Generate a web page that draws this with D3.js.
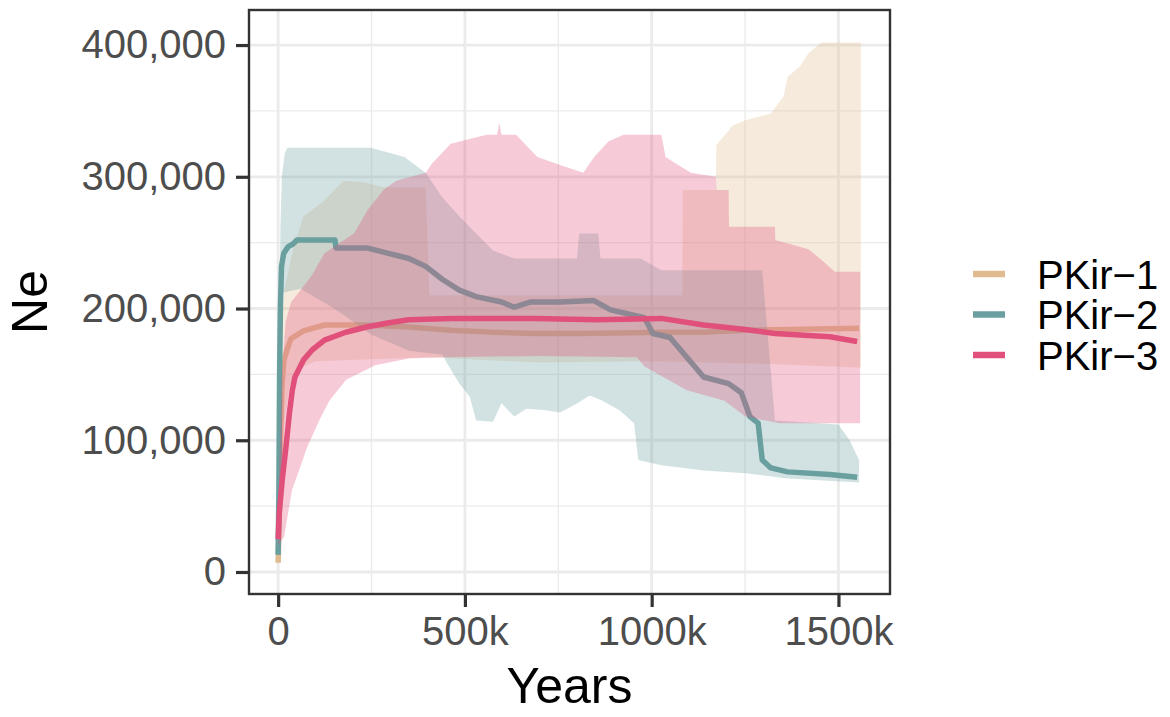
<!DOCTYPE html>
<html>
<head>
<meta charset="utf-8">
<script src="https://cdn.jsdelivr.net/npm/d3@7"></script>
<style>
  body { margin: 0; background: #fff; }
  #chart { width: 1170px; height: 717px; }
  text { font-family: "Liberation Sans", Arial, sans-serif; }
</style>
</head>
<body>
<div id="chart"></div>
<script>
// years are in thousands (k), Ne in thousands
const seriesNames = ["PKir\u22121", "PKir\u22122", "PKir\u22123"];
const seriesColors = ["#E0BB90", "#6A9FA0", "#E0507A"];

const xTicks = [0, 500000, 1000000, 1500000];
const xTickLabels = ["0", "500k", "1000k", "1500k"];
const yTicks = [0, 100000, 200000, 300000, 400000];
const yTickLabels = ["0", "100,000", "200,000", "300,000", "400,000"];
const xLimits = [-78000, 1638000];
const yLimits = [-16700, 426600];

// PKir-1
const p1LineT = [0, 3, 6, 10, 15, 23, 34, 68, 124, 237, 350, 463, 575, 688, 801, 913, 1026, 1139, 1251, 1364, 1555];
const p1LineNe = [7, 40, 100, 140, 160, 168, 177, 183, 187.5, 187.5, 186, 183.5, 182, 181, 181, 181.5, 182, 182, 183.5, 184, 185];
const p1UpT = [0, 3, 8, 17, 40, 68, 124, 175, 226, 282, 395, 405, 1082, 1083, 1172, 1173, 1217, 1251, 1319, 1353, 1364, 1398, 1420, 1454, 1560];
const p1UpNe = [8, 100, 180, 215, 245, 270, 282, 297, 296, 292, 292, 210, 210, 290, 290, 324, 339, 343, 348, 361, 376, 384, 394, 402, 402];
const p1LoT = [0, 3, 8, 15, 30, 60, 100, 400, 700, 1000, 1300, 1560];
const p1LoNe = [3, 20, 60, 110, 140, 155, 160, 163, 159, 160, 158, 155];

// PKir-2
const p2LineT = [0, 2, 4, 6, 9, 15, 27, 40, 50, 152, 155, 237, 293, 350, 395, 440, 485, 530, 598, 632, 677, 755, 845, 890, 981, 1003, 1049, 1094, 1139, 1206, 1240, 1263, 1285, 1296, 1319, 1364, 1477, 1550];
const p2LineNe = [13, 60, 150, 200, 232, 242, 247, 249, 252, 252, 246, 246, 242, 238, 232, 222, 214, 209, 205, 201, 205, 205, 206, 199, 193, 181, 178, 163, 148, 143, 136, 118, 113, 85, 79, 76, 74, 72];
const p2UpT = [0, 3, 6, 10, 18, 25, 248, 338, 395, 440, 485, 530, 575, 632, 800, 806, 857, 863, 970, 1026, 1296, 1330, 1500, 1530, 1555];
const p2UpNe = [15, 150, 260, 300, 318, 322, 322, 315, 303, 284, 270, 257, 244, 238, 238, 257, 257, 238, 238, 229, 229, 115, 112, 100, 85];
const p2LoT = [0, 3, 6, 12, 60, 150, 250, 350, 440, 451, 485, 513, 530, 575, 598, 632, 665, 710, 755, 801, 834, 868, 913, 953, 964, 1026, 1139, 1251, 1364, 1555];
const p2LoNe = [5, 100, 190, 212, 215, 200, 180, 168, 165, 159, 143, 133, 115, 114, 128, 118, 124, 123, 121, 128, 134, 130, 123, 113, 85, 81, 77, 75, 71, 68];

// PKir-3
const p3LineT = [0, 3, 11, 21, 30, 38, 45, 68, 91, 124, 181, 237, 293, 350, 463, 688, 857, 1026, 1139, 1251, 1330, 1477, 1550];
const p3LineNe = [25, 45, 70, 95, 120, 138, 148, 161, 168.5, 176, 182, 186, 189, 191.5, 192.5, 192.5, 191.5, 192.5, 187.5, 184, 181, 178.6, 175];
const p3UpT = [0, 3, 10, 20, 35, 60, 90, 124, 203, 240, 282, 316, 395, 412, 462, 558, 586, 592, 598, 637, 694, 755, 817, 846, 885, 925, 1026, 1037, 1071, 1105, 1172, 1173, 1206, 1207, 1330, 1331, 1420, 1454, 1490, 1558];
const p3UpNe = [30, 80, 150, 190, 205, 214, 225, 242, 257, 275, 290, 297, 303, 310, 325, 332, 332, 341, 332, 332, 315, 309, 303, 315, 327, 332, 332, 315, 309, 303, 300, 290, 290, 262, 262, 252, 245, 237, 228, 228];
const p3LoT = [0, 16, 37, 56, 78, 110, 137, 182, 260, 350, 440, 700, 960, 981, 1094, 1195, 1251, 1342, 1558];
const p3LoNe = [20, 27, 62, 77, 95, 115, 130, 146, 157, 162, 163, 164, 163, 156, 138, 130, 118, 113, 113];

const zip = (t, v) => t.map((d, i) => ({ year: d * 1000, ne: v[i] * 1000 }));

const seriesData = [
  { line: zip(p1LineT, p1LineNe), upper: zip(p1UpT, p1UpNe), lower: zip(p1LoT, p1LoNe) },
  { line: zip(p2LineT, p2LineNe), upper: zip(p2UpT, p2UpNe), lower: zip(p2LoT, p2LoNe) },
  { line: zip(p3LineT, p3LineNe), upper: zip(p3UpT, p3UpNe), lower: zip(p3LoT, p3LoNe) },
];

class NeVis {
  constructor(_parentElement, _data) {
    this.parentElement = _parentElement;
    this.data = _data;
    this.initVis();
  }

  initVis() {
    let vis = this;

    vis.margin = { top: 10, right: 280, bottom: 123, left: 249 };
    vis.width = 1170 - vis.margin.left - vis.margin.right;
    vis.height = 717 - vis.margin.top - vis.margin.bottom;

    vis.root = d3
      .select("#" + vis.parentElement)
      .append("svg")
      .attr("width", 1170)
      .attr("height", 717);

    vis.svg = vis.root
      .append("g")
      .attr("transform", "translate(" + vis.margin.left + "," + vis.margin.top + ")");

    vis.x = d3.scaleLinear().domain(xLimits).range([0, vis.width]);
    vis.y = d3.scaleLinear().domain(yLimits).range([vis.height, 0]);

    // grid: minor then major
    let xMinor = xTicks.slice(0, -1).map((d, i) => (d + xTicks[i + 1]) / 2);
    let yMinor = yTicks.slice(0, -1).map((d, i) => (d + yTicks[i + 1]) / 2);

    vis.svg.selectAll(".xminor").data(xMinor).enter().append("line")
      .attr("x1", (d) => vis.x(d)).attr("x2", (d) => vis.x(d))
      .attr("y1", 0).attr("y2", vis.height)
      .attr("stroke", "#EBEBEB").attr("stroke-width", 1.4);
    vis.svg.selectAll(".yminor").data(yMinor).enter().append("line")
      .attr("y1", (d) => vis.y(d)).attr("y2", (d) => vis.y(d))
      .attr("x1", 0).attr("x2", vis.width)
      .attr("stroke", "#EBEBEB").attr("stroke-width", 1.4);
    vis.svg.selectAll(".xmajor").data(xTicks).enter().append("line")
      .attr("x1", (d) => vis.x(d)).attr("x2", (d) => vis.x(d))
      .attr("y1", 0).attr("y2", vis.height)
      .attr("stroke", "#EBEBEB").attr("stroke-width", 2.8);
    vis.svg.selectAll(".ymajor").data(yTicks).enter().append("line")
      .attr("y1", (d) => vis.y(d)).attr("y2", (d) => vis.y(d))
      .attr("x1", 0).attr("x2", vis.width)
      .attr("stroke", "#EBEBEB").attr("stroke-width", 2.8);

    vis.layers = vis.svg.append("g");

    // border
    vis.svg.append("rect")
      .attr("width", vis.width).attr("height", vis.height)
      .attr("fill", "none").attr("stroke", "#333333").attr("stroke-width", 2.4);

    // axes
    let xAxis = d3.axisBottom(vis.x).tickValues(xTicks)
      .tickFormat((d, i) => xTickLabels[i]).tickSizeInner(13).tickSizeOuter(0).tickPadding(10);
    let yAxis = d3.axisLeft(vis.y).tickValues(yTicks)
      .tickFormat((d, i) => yTickLabels[i]).tickSizeInner(13).tickSizeOuter(0).tickPadding(10);

    let gx = vis.svg.append("g").attr("transform", "translate(0," + vis.height + ")").call(xAxis);
    let gy = vis.svg.append("g").call(yAxis);
    [gx, gy].forEach((g) => {
      g.select(".domain").remove();
      g.selectAll(".tick line").attr("stroke", "#333333").attr("stroke-width", 3.2);
      g.selectAll(".tick text").attr("fill", "#4D4D4D").style("font-size", "40px")
        .style("font-family", '"Liberation Sans", Arial, sans-serif');
    });

    vis.root.append("text")
      .attr("x", vis.margin.left + vis.width / 2).attr("y", 703)
      .attr("text-anchor", "middle").style("font-size", "50px").text("Years");
    vis.root.append("text")
      .attr("transform", "translate(47," + (vis.margin.top + vis.height / 2) + ") rotate(-90)")
      .attr("text-anchor", "middle").style("font-size", "50px").text("Ne");

    // legend
    let legend = vis.root.selectAll(".legend").data(seriesNames).enter().append("g")
      .attr("transform", (d, i) => "translate(973," + (274 + i * 40.5) + ")");
    legend.append("line").attr("x1", 0).attr("x2", 32)
      .attr("stroke", (d, i) => seriesColors[i]).attr("stroke-width", 6.5);
    legend.append("text").attr("x", 64).attr("y", 14.5)
      .style("font-size", "40px").attr("fill", "#000").text((d) => d);

    vis.updateVis();
  }

  updateVis() {
    let vis = this;

    let path = d3.line().x((d) => vis.x(d.year)).y((d) => vis.y(d.ne));

    vis.data.forEach((s, i) => {
      let poly = s.upper.concat(s.lower.slice().reverse());
      vis.layers.append("path")
        .attr("d", path(poly) + "Z")
        .attr("fill", seriesColors[i]).attr("fill-opacity", 0.3);
      vis.layers.append("path")
        .attr("d", path(s.line))
        .attr("fill", "none").attr("stroke", seriesColors[i])
        .attr("stroke-width", 5.5).attr("stroke-linejoin", "round");
    });
  }
}

new NeVis("chart", seriesData);
</script>
</body>
</html>
